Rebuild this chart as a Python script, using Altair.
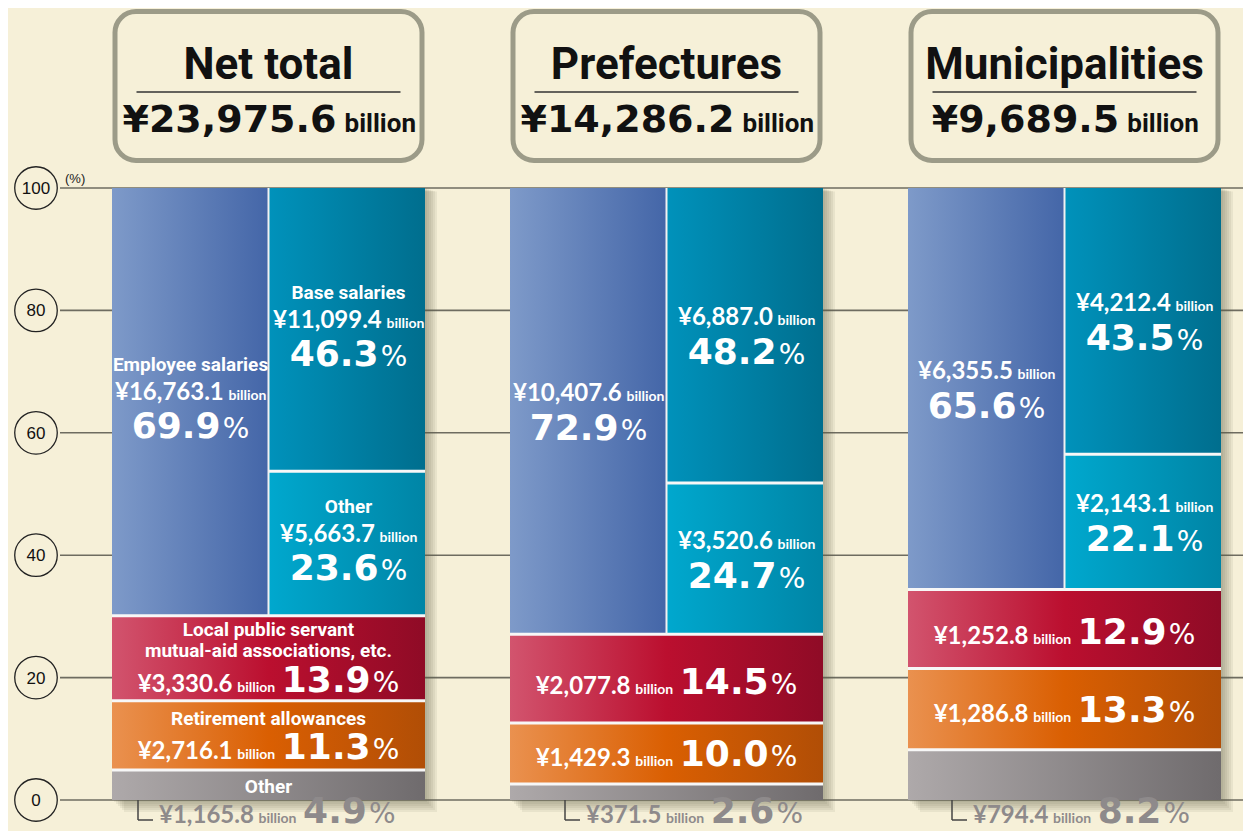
import altair as alt
import pandas as pd

# ---------------- data ----------------
groups = ["Net total", "Prefectures", "Municipalities"]
group_totals = ["¥23,975.6", "¥14,286.2", "¥9,689.5"]

employee_val = ["¥16,763.1", "¥10,407.6", "¥6,355.5"]
employee_pct = [69.9, 72.9, 65.6]
base_val = ["¥11,099.4", "¥6,887.0", "¥4,212.4"]
base_pct = [46.3, 48.2, 43.5]
othersal_val = ["¥5,663.7", "¥3,520.6", "¥2,143.1"]
othersal_pct = [23.6, 24.7, 22.1]
mutual_val = ["¥3,330.6", "¥2,077.8", "¥1,252.8"]
mutual_pct = [13.9, 14.5, 12.9]
retire_val = ["¥2,716.1", "¥1,429.3", "¥1,286.8"]
retire_pct = [11.3, 10.0, 13.3]
other_val = ["¥1,165.8", "¥371.5", "¥794.4"]
other_pct = [4.9, 2.6, 8.2]

y_ticks = [0, 20, 40, 60, 80, 100]

name_employee = ["Employee salaries"]
name_base = ["Base salaries"]
name_othersal = ["Other"]
name_mutual = ["Local public servant", "mutual-aid associations, etc."]
name_retire = ["Retirement allowances"]
name_other = ["Other"]
unit_word = "billion"

# ---------------- layout ----------------
W, H = 1235, 823
MARGIN = 8
PX_PER_GROUP = 398.0
PX_PER_PCT = 6.12
PAGE_CENTER0 = 268.5
PAGE_ZERO = 800.0
BAR_HALF = 156.5
HALF_LABEL = 78.0

BG = "#F6F0D8"
xdom = [(MARGIN - PAGE_CENTER0) / PX_PER_GROUP, (MARGIN + W - PAGE_CENTER0) / PX_PER_GROUP]
ydom = [(PAGE_ZERO - (MARGIN + H)) / PX_PER_PCT, (PAGE_ZERO - MARGIN) / PX_PER_PCT]
XS = alt.Scale(domain=xdom, nice=False, zero=False)
YS = alt.Scale(domain=ydom, nice=False, zero=False)


def ux(px):
    return px / PX_PER_GROUP


def up(px):
    return px / PX_PER_PCT


NARROW = "Roboto, Liberation Sans, sans-serif"
LATO = "Lato, Open Sans, sans-serif"
DJV = "DejaVu Sans, sans-serif"

DIG = "0123456789"
LATO_B = {**{d: 0.58 for d in DIG}, "¥": 0.58, ",": 0.23, ".": 0.23,
          "b": 0.56, "i": 0.25, "l": 0.25, "o": 0.56, "n": 0.56}
DJV_B = {**{d: 0.696 for d in DIG}, "¥": 0.696, ",": 0.381, ".": 0.381, "%": 1.0}
DJV_R = {"%": 0.951}
ROB_B = {"b": 0.56, "i": 0.25, "l": 0.25, "o": 0.57, "n": 0.56}

STY = {
    "name": dict(font=NARROW, size=19, weight="bold", align="center", w=None),
    "value": dict(font=LATO, size=24, weight="bold", align="left", w=LATO_B),
    "bil": dict(font=LATO, size=14, weight="bold", align="left", w=LATO_B),
    "pct": dict(font=DJV, size=36, weight="bold", align="left", w=DJV_B),
    "sign": dict(font=DJV, size=28, weight="normal", align="left", w=DJV_R),
}


def tw(style, text):
    st = STY[style]
    return sum(st["w"].get(c, 0.55) for c in text) * st["size"]


# ---------------- segments ----------------
seg_rows, sep_rows, vsep_rows, br_rows, lab_rows = [], [], [], [], []
BR_OFF = [26, 55, 44]
GRAY_TXT = "#8E8A8B"


def add_line(parts, cx, y, color):
    widths = [tw(s, t) for s, t, g in parts]
    total = sum(widths) + sum(g for _, _, g in parts[:-1])
    pos = -total / 2
    for (s, t, g), w in zip(parts, widths):
        lab_rows.append(dict(style=s, x=cx + ux(pos), y=y, text=t, color=color))
        pos += w + g


def add_left(parts, x0, y, color):
    pos = 0.0
    for s, t, g in parts:
        lab_rows.append(dict(style=s, x=x0 + ux(pos), y=y, text=t, color=color))
        pos += tw(s, t) + g


def val_parts(v):
    return [("value", v, 5), ("bil", unit_word, 0)]


def pct_parts(p):
    return [("pct", f"{p:.1f}", 2), ("sign", "%", 0)]


def one_line(v, p):
    return [("value", v, 5), ("bil", unit_word, 7), ("pct", f"{p:.1f}", 2), ("sign", "%", 0)]


def stacked(names, v, p, cx, yc, first):
    if first:
        y = yc
        lab_rows.append(dict(style="name", x=cx, y=y + up(31), text=names[0], color="white"))
        add_line(val_parts(v), cx, y + up(2), "white")
        add_line(pct_parts(p), cx, y - up(36), "white")
    else:
        add_line(val_parts(v), cx, yc + up(10), "white")
        add_line(pct_parts(p), cx, yc - up(29), "white")


for i, g in enumerate(groups):
    c = float(i)
    x0, x1, xm = c - ux(BAR_HALF), c + ux(BAR_HALF), c
    o, r, m = other_pct[i], retire_pct[i], mutual_pct[i]
    s = o + r + m
    osl = othersal_pct[i]
    top_e = s + employee_pct[i]
    top_b = s + osl + base_pct[i]
    seg_rows += [
        dict(cat="other", x=x0, x2=x1, y=0, y2=o),
        dict(cat="retire", x=x0, x2=x1, y=o, y2=o + r),
        dict(cat="mutual", x=x0, x2=x1, y=o + r, y2=s),
        dict(cat="employee", x=x0, x2=xm, y=s, y2=top_e),
        dict(cat="othersal", x=xm, x2=x1, y=s, y2=s + osl),
        dict(cat="base", x=xm, x2=x1, y=s + osl, y2=top_b),
    ]
    sep_rows += [dict(x=x0, x2=x1, y=o), dict(x=x0, x2=x1, y=o + r),
                 dict(x=x0, x2=x1, y=s), dict(x=xm, x2=x1, y=s + osl)]
    vsep_rows.append(dict(x=xm, y=s, y2=max(top_e, top_b)))

    first = i == 0
    stacked(name_employee, employee_val[i], employee_pct[i], c - ux(HALF_LABEL), (s + top_e) / 2, first)
    stacked(name_base, base_val[i], base_pct[i], c + ux(HALF_LABEL + 2), (s + osl + top_b) / 2, first)
    stacked(name_othersal, othersal_val[i], othersal_pct[i], c + ux(HALF_LABEL + 2), s + osl / 2, first)
    ym = o + r + m / 2
    if first:
        lab_rows.append(dict(style="name", x=c, y=ym + up(22), text=name_mutual[0], color="white"))
        lab_rows.append(dict(style="name", x=c, y=ym + up(1), text=name_mutual[1], color="white"))
        add_line(one_line(mutual_val[i], m), c, ym - up(34), "white")
    else:
        add_line(one_line(mutual_val[i], m), c, ym - up(15), "white")
    yr = o + r / 2
    if first:
        lab_rows.append(dict(style="name", x=c, y=yr + up(10), text=name_retire[0], color="white"))
        add_line(one_line(retire_val[i], r), c, yr - up(24), "white")
    else:
        add_line(one_line(retire_val[i], r), c, yr - up(13), "white")
    if first:
        lab_rows.append(dict(style="name", x=c, y=o / 2 - up(8), text=name_other[0], color="white"))
    bx = x0 + ux(BR_OFF[i])
    ybr = -up(20)
    br_rows += [dict(x=bx, x2=bx, y=0, y2=ybr), dict(x=bx, x2=bx + ux(15), y=ybr, y2=ybr)]
    add_left(one_line(other_val[i], o), bx + ux(21), -up(23), GRAY_TXT)

seg_df = pd.DataFrame(seg_rows)
sep_df = pd.DataFrame(sep_rows)
vsep_df = pd.DataFrame(vsep_rows)
br_df = pd.DataFrame(br_rows)
lab_df = pd.DataFrame(lab_rows)

GRAD = {
    "employee": ["#7E9AC9", "#4466A8"],
    "base": ["#0092BB", "#006E8E"],
    "othersal": ["#00A8CE", "#0085A6"],
    "mutual": ["#D2546E", "#BB0F2F", "#8F0B26"],
    "retire": ["#EA914F", "#DA5F02", "#B14E06"],
    "other": ["#AEA9AA", "#6F6B6D"],
}


def grad(cols):
    n = len(cols)
    return {"gradient": "linear", "x1": 0, "y1": 0, "x2": 1, "y2": 0,
            "stops": [{"offset": k / (n - 1), "color": col} for k, col in enumerate(cols)]}


X = lambda f: alt.X(f, type="quantitative", scale=XS, axis=None)
Y = lambda f: alt.Y(f, type="quantitative", scale=YS, axis=None)

layers = []

# gridlines + axis circles
tick_df = pd.DataFrame({"t": y_ticks, "lab": [str(t) for t in y_ticks]})
layers.append(alt.Chart(tick_df).mark_rule(color="#6e6c60", strokeWidth=1.6).encode(
    y=Y("t"), x=alt.value(52), x2=alt.value(W)))
layers.append(alt.Chart(tick_df).mark_point(shape="circle", size=1810, filled=False, fill=BG,
                                             fillOpacity=1, stroke="#222222", strokeWidth=1.3, opacity=1).encode(
    y=Y("t"), x=alt.value(28)))
layers.append(alt.Chart(tick_df).mark_text(font="Liberation Sans, Arial, sans-serif", fontSize=17,
                                            color="#111111", baseline="middle", align="center", dy=1).encode(
    y=Y("t"), x=alt.value(28), text="lab"))
layers.append(alt.Chart(pd.DataFrame({"t": [100], "lab": ["(%)"]})).mark_text(
    font="Liberation Sans, Arial, sans-serif", fontSize=13, color="#222222", align="left",
    baseline="alphabetic", dy=-5).encode(y=Y("t"), x=alt.value(57), text="lab"))

# header boxes
HV_SIZE, HB_SIZE = 38, 26
wv = [sum(DJV_B.get(ch, .6) for ch in t) * HV_SIZE for t in group_totals]
wb = sum(ROB_B.get(ch, .5) for ch in unit_word) * HB_SIZE
hdr = pd.DataFrame({
    "g": groups,
    "tot": group_totals,
    "bx0": [i - ux(BAR_HALF - 3) for i in range(3)],
    "bx1": [i + ux(BAR_HALF - 3) for i in range(3)],
    "c": [float(i) for i in range(3)],
    "lx0": [i - ux(132) for i in range(3)],
    "lx1": [i + ux(132) for i in range(3)],
    "vx": [i - ux((wv[i] + 8 + wb) / 2) for i in range(3)],
    "bwx": [i - ux((wv[i] + 8 + wb) / 2) + ux(wv[i] + 8) for i in range(3)],
    "bw": [unit_word] * 3,
})

layers.append(alt.Chart(hdr).mark_rect(cornerRadius=21, fill=BG, stroke="#9C9B88", strokeWidth=5).encode(
    x=X("bx0"), x2="bx1", y=alt.value(3.5), y2=alt.value(152.5)))
layers.append(alt.Chart(hdr).mark_text(font=NARROW, fontSize=44, fontWeight="bold", color="#111111",
                                       align="center", baseline="alphabetic").encode(
    x=X("c"), y=alt.value(71), text="g"))
layers.append(alt.Chart(hdr).mark_rule(color="#333333", strokeWidth=1.5).encode(
    x=X("lx0"), x2="lx1", y=alt.value(84)))
layers.append(alt.Chart(hdr).mark_text(font=DJV, fontSize=HV_SIZE, fontWeight="bold", color="#111111",
                                       align="left", baseline="alphabetic").encode(
    x=X("vx"), y=alt.value(124), text="tot"))
layers.append(alt.Chart(hdr).mark_text(font=NARROW, fontSize=HB_SIZE, fontWeight="bold", color="#111111",
                                       align="left", baseline="alphabetic").encode(
    x=X("bwx"), y=alt.value(124), text="bw"))

# shadows
bars = pd.DataFrame({"x": [i - ux(BAR_HALF) for i in range(3)], "x2": [i + ux(BAR_HALF) for i in range(3)]})
for d in [2, 4, 6, 8, 10, 12]:
    sd = bars.copy()
    sd["x"] = sd["x"] + ux(d)
    sd["x2"] = sd["x2"] + ux(d)
    sd["y"] = -up(d)
    sd["y2"] = 100 - up(d * 0.3)
    layers.append(alt.Chart(sd).mark_rect(color="#5e5840", opacity=0.085).encode(
        x=X("x"), x2="x2", y=Y("y"), y2="y2"))

# segments
for cat, cols in GRAD.items():
    layers.append(alt.Chart(seg_df).transform_filter(alt.datum.cat == cat).mark_rect(fill=grad(cols)).encode(
        x=X("x"), x2="x2", y=Y("y"), y2="y2"))

# separators
layers.append(alt.Chart(sep_df).mark_rule(color="#F7F7F7", strokeWidth=3).encode(
    x=X("x"), x2="x2", y=Y("y")))
layers.append(alt.Chart(vsep_df).mark_rule(color="#F2F2F2", strokeWidth=2).encode(
    x=X("x"), y=Y("y"), y2="y2"))

# brackets
layers.append(alt.Chart(br_df).mark_rule(color="#444444", strokeWidth=1.5).encode(
    x=X("x"), x2="x2", y=Y("y"), y2="y2"))

# labels
for sname, st in STY.items():
    layers.append(alt.Chart(lab_df).transform_filter(alt.datum.style == sname).mark_text(
        font=st["font"], fontSize=st["size"], fontWeight=st["weight"], align=st["align"],
        baseline="alphabetic").encode(
        x=X("x"), y=Y("y"), text="text", color=alt.Color("color:N", scale=None)))

chart = alt.layer(*layers).properties(
    width=W, height=H, background=BG, padding=0,
    autosize=alt.AutoSizeParams(type="none"),
).configure_view(stroke=None)

chart.save("out.html", embed_options={"renderer": "svg", "actions": False})
